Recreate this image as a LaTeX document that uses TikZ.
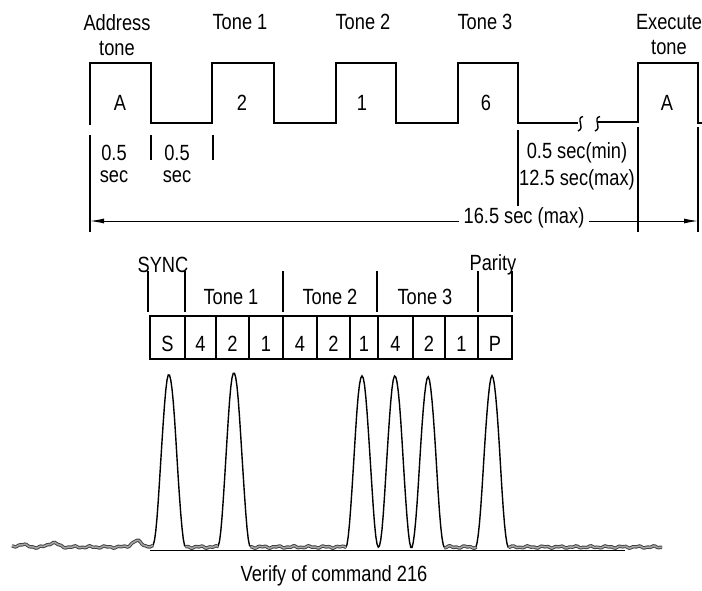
\documentclass[tikz,border=0pt]{standalone}
\usepackage{fontspec}
\setmainfont{Liberation Sans}[FakeStretch=0.83]
\usetikzlibrary{arrows.meta}
\begin{document}
\begin{tikzpicture}[x=1pt,y=-1pt,
  lbl/.style={font=\fontsize{22}{25}\selectfont, inner sep=1pt, align=center},
  wave/.style={line width=1.4pt, line join=miter},
  tick/.style={line width=1.1pt},
  cell/.style={draw, line width=1.2pt, minimum height=43pt, inner sep=0pt},
  celltxt/.style={font=\fontsize{22}{25}\selectfont, inner sep=0pt},
  trace/.style={line width=1.4pt},
  bandouter/.style={line width=3.4pt, black!75},
  bandinner/.style={line width=1.5pt, black!35},
  declare function={
    pk(\x,\c)=(abs(\x-\c)<16.5)*pow(cos((\x-\c)*5.4545),2);
    gb(\x,\c,\w)=exp(-(min(abs(\x-\c),3*\w)/\w)^2);
    nz(\x)=0.7*sin(23*mod(\x,360))+0.5*sin(51*mod(\x,120)+30)-6*gb(\x,137,7)-4.5*gb(\x,53,6)-3*gb(\x,22,5);
    tr(\x)=547+nz(\x)-172*(pk(\x,169)+1.015*pk(\x,234)+pk(\x,362)+pk(\x,395)+0.99*pk(\x,428)+0.995*pk(\x,492));
  }]
\useasboundingbox (0,0) rectangle (702,590);

% ---------- top timing diagram ----------
\node[lbl] (laddr) at (117,35) {Address\\tone};
\node[lbl] (lt1) at (240,22) {Tone 1};
\node[lbl] (lt2) at (363,22) {Tone 2};
\node[lbl] (lt3) at (485,22) {Tone 3};
\node[lbl] (lexe) at (669,35) {Execute\\tone};

\draw[wave] (90,125) -- (90,63) -- (151,63) -- (151,123) -- (212,123) -- (212,63)
  -- (274,63) -- (274,123) -- (336,123) -- (336,63) -- (396,63) -- (396,123)
  -- (458,123) -- (458,63) -- (518,63) -- (518,123) -- (578,123);
\draw[wave] (583,116.5) .. controls (575,118) and (586,128) .. (578,131);
\draw[wave] (600,116.5) .. controls (592,118) and (603,128) .. (595,131);
\draw[wave] (598,122) -- (638,122) -- (638,63) -- (698,63) -- (698,123) -- (702,123);

\node[lbl] (pA) at (120,103) {A};
\node[lbl] (p2) at (242,103) {2};
\node[lbl] (p1) at (362,103) {1};
\node[lbl] (p6) at (486,103) {6};
\node[lbl] (pE) at (667,103) {A};

\draw[tick] (90,135) -- (90,232);
\draw[tick] (151,135) -- (151,160);
\draw[tick] (213,135) -- (213,160);
\draw[tick] (518,130) -- (518,206);
\draw[tick] (638,127) -- (638,232);
\draw[tick] (698,127) -- (698,232);

\node[lbl] (d1a) at (114,153) {0.5};
\node[lbl] (d1b) at (114,177) {sec};
\node[lbl] (d2a) at (177,153) {0.5};
\node[lbl] (d2b) at (177,177) {sec};
\node[lbl] (dmin) at (577,153) {0.5 sec(min)};
\node[lbl] (dmax) at (577,180) {12.5 sec(max)};

\coordinate (arrL) at (90,221);
\coordinate (arrR) at (698,221);
\draw[line width=1pt, {Latex[length=14pt,width=5pt]}-{Latex[length=14pt,width=5pt]}] (arrL) -- (arrR);
\node[lbl, fill=white, inner xsep=5pt] (dtot) at (524,218) {16.5 sec (max)};

% ---------- code word ----------
\node[lbl] (lsync) at (163,265) {SYNC};
\node[lbl] (lpar) at (493,265) {Parity};
\node[lbl] (lc1) at (231,297) {Tone 1};
\node[lbl] (lc2) at (330,297) {Tone 2};
\node[lbl] (lc3) at (425,297) {Tone 3};
\foreach \t in {148,185,283,377,478,512}{
  \draw[tick] (\t,271) -- (\t,312);
}

\foreach \nm/\cx/\w/\t in {cS/167.5/35/S, c14/200.5/31/4, c12/232.5/33/2, c11/266/34/1,
    c24/300/34/4, c22/333.5/33/2, c21/364/28/1, c34/395.5/35/4, c32/429/32/2,
    c31/461.5/33/1, cP/495/34/P}{
  \node[cell, minimum width=\w pt] (\nm) at (\cx,337.5) {};
  \node[celltxt] (\nm t) at (\cx,344) {\t};
}

% ---------- recorded trace ----------
\draw[line width=0.5pt] (150,550) -- (625,550);
\draw[trace] plot[domain=12:662, samples=521] (\x,{tr(\x)});
\foreach \a/\b in {12/153, 185.5/218, 250.5/346, 444.5/476, 508.5/662}{
  \draw[bandouter] plot[domain=\a:\b, samples=90] (\x,{tr(\x)});
  \draw[bandinner] plot[domain=\a:\b, samples=90] (\x,{tr(\x)});
}
\node[lbl] (cap) at (334,576) {Verify of command 216};
\end{tikzpicture}
\end{document}
